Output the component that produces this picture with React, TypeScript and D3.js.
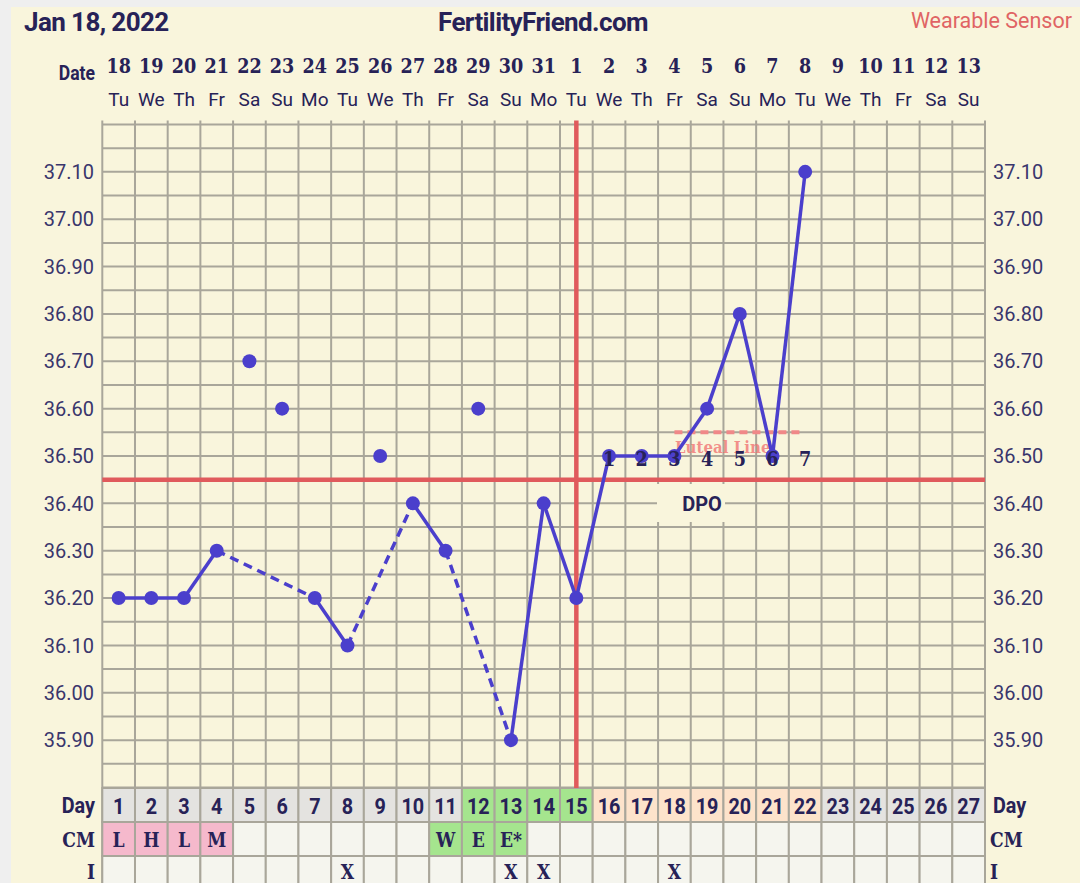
import React from "react";
import * as d3 from "d3";

const dates = [18,19,20,21,22,23,24,25,26,27,28,29,30,31,1,2,3,4,5,6,7,8,9,10,11,12,13];
const weekdays = ["Tu","We","Th","Fr","Sa","Su","Mo","Tu","We","Th","Fr","Sa","Su","Mo","Tu","We","Th","Fr","Sa","Su","Mo","Tu","We","Th","Fr","Sa","Su"];
const temps: (number | null)[] = [36.2,36.2,36.2,36.3,36.7,36.6,36.2,36.1,36.5,36.4,36.3,36.6,35.9,36.4,36.2,36.5,36.5,36.5,36.6,36.8,36.5,37.1];
const discarded = [5,6,9,12];
const yTicks = [35.9,36.0,36.1,36.2,36.3,36.4,36.5,36.6,36.7,36.8,36.9,37.0,37.1];
const dayPhase = ["g","g","g","g","g","g","g","g","g","g","g","f","f","f","f","p","p","p","p","p","p","p","g","g","g","g","g"];
const cmValues = ["L","H","L","M","","","","","","","W","E","E*","","","","","","","","","","","","","",""];
const cmColor = ["pink","pink","pink","pink","","","","","","","green","green","green","","","","","","","","","","","","","",""];
const intercourseDays = [8,13,14,18];
const coverline = 36.45;
const ovulationDay = 15;
const dpoNumbers = [1,2,3,4,5,6,7];
const dpoStartDay = 16;
const dpoLabelTemp = 36.5;
const lutealTemp = 36.55;
const lutealStart = 18;
const lutealEnd = 22;

const NAVY = "#272257";
const GRID = "#a9a69a";
const CREAM = "#f9f5dc";
const BLUE = "#4b3fcc";
const RED = "#e05a5c";

export default function App() {
  const nDays = 27;
  const x = d3.scaleLinear().domain([0, nDays]).range([102.3, 985]);
  const y = d3.scaleLinear().domain([35.8, 37.2]).range([787.5, 124.5]);
  const cx = (d: number) => x(d - 0.5);
  const rowTop = [788, 822, 856];
  const rowH = 34;

  const gridH = d3.range(35.8, 37.2001, 0.05);
  const gridV = d3.range(0, nDays + 1);

  const pts = temps.map((t, i) => ({ day: i + 1, t })).filter(p => p.t != null) as { day: number; t: number }[];
  const valid = pts.filter(p => !discarded.includes(p.day));
  const segs: { a: typeof valid[0]; b: typeof valid[0]; dashed: boolean }[] = [];
  for (let i = 1; i < valid.length; i++) {
    segs.push({ a: valid[i - 1], b: valid[i], dashed: valid[i].day - valid[i - 1].day > 1 });
  }
  const line = d3.line<{ day: number; t: number }>().x(p => cx(p.day)).y(p => y(p.t));

  const phaseFill: Record<string, string> = { g: "#e4e3e0", f: "#a5e58e", p: "#fde3cb" };
  const cmFill: Record<string, string> = { pink: "#f5b9cc", green: "#a5e58e", "": "#f5f5ee" };

  const slab = (txt: string, tx: number, ty: number, size = 20, anchor: "middle" | "end" | "start" = "middle", fill = NAVY, key?: any) => (
    <text key={key} transform={`translate(${tx},${ty}) scale(0.86,1)`} textAnchor={anchor}
      fontFamily="'DejaVu Serif', serif" fontWeight="bold" fontSize={size} fill={fill}>{txt}</text>
  );

  return (
    <svg width={1080} height={883} style={{ position: "absolute", left: 0, top: 0 }}>
      <rect x={0} y={0} width={1080} height={883} fill="#efefef" />
      <rect x={11} y={7} width={1069} height={876} fill={CREAM} />

      {/* header */}
      <text x={24} y={31} fontFamily="Roboto" fontWeight="bold" fontSize={26} fill={NAVY} letterSpacing={-0.6}>Jan 18, 2022</text>
      <text x={543} y={31} textAnchor="middle" fontFamily="Roboto" fontWeight="bold" fontSize={26} fill={NAVY} letterSpacing={-0.6}>FertilityFriend.com</text>
      <text x={1072} y={28} textAnchor="end" fontFamily="Roboto" fontSize={21.5} fill="#e06464">Wearable Sensor</text>

      {/* date header */}
      <text transform="translate(95,80) scale(0.88,1)" textAnchor="end" fontFamily="Roboto" fontWeight="bold" fontSize={20} fill={NAVY}>Date</text>
      {dates.map((d, i) => slab(String(d), cx(i + 1), 73, 20.5, "middle", NAVY, "d" + i))}
      {weekdays.map((w, i) => (
        <text key={"w" + i} x={cx(i + 1)} y={106} textAnchor="middle" fontFamily="Roboto" fontSize={19} fill={NAVY}>{w}</text>
      ))}

      {/* grid */}
      {gridH.map((t, i) => (
        <line key={"h" + i} x1={x(0)} x2={x(nDays)} y1={y(t)} y2={y(t)} stroke={GRID} strokeWidth={2} />
      ))}
      {gridV.map(d => (
        <line key={"v" + d} x1={x(d)} x2={x(d)} y1={120.5} y2={rowTop[2] + rowH + 10} stroke={GRID} strokeWidth={2} />
      ))}

      {/* y labels */}
      {yTicks.map(t => (
        <g key={"yt" + t}>
          <text x={94} y={y(t)} dy="0.36em" textAnchor="end" fontFamily="Roboto" fontSize={20} fill="#3a366c">{t.toFixed(2)}</text>
          <text x={993} y={y(t)} dy="0.36em" textAnchor="start" fontFamily="Roboto" fontSize={20} fill="#3a366c">{t.toFixed(2)}</text>
        </g>
      ))}

      {/* bottom rows */}
      {d3.range(nDays).map(i => (
        <g key={"r" + i}>
          <rect x={x(i)} y={rowTop[0]} width={x(1) - x(0)} height={rowH} fill={phaseFill[dayPhase[i]]} stroke={GRID} strokeWidth={2} />
          <rect x={x(i)} y={rowTop[1]} width={x(1) - x(0)} height={rowH} fill={cmFill[cmColor[i]]} stroke={GRID} strokeWidth={2} />
          <rect x={x(i)} y={rowTop[2]} width={x(1) - x(0)} height={rowH} fill="#f5f5ee" stroke={GRID} strokeWidth={2} />
          <text transform={`translate(${cx(i + 1)},${rowTop[0] + 26}) scale(0.9,1)`} textAnchor="middle" fontFamily="Roboto" fontWeight="bold" fontSize={22} fill={NAVY}>{i + 1}</text>
          {cmValues[i] ? slab(cmValues[i], cx(i + 1), rowTop[1] + 25, 20) : null}
          {intercourseDays.includes(i + 1) ? slab("X", cx(i + 1), rowTop[2] + 23, 20) : null}
        </g>
      ))}
      <text transform={`translate(95,${rowTop[0] + 25}) scale(0.9,1)`} textAnchor="end" fontFamily="Roboto" fontWeight="bold" fontSize={22} fill={NAVY}>Day</text>
      {slab("CM", 95, rowTop[1] + 25, 20, "end")}
      {slab("I", 95, rowTop[2] + 23, 20, "end")}
      <text transform={`translate(993,${rowTop[0] + 25}) scale(0.9,1)`} textAnchor="start" fontFamily="Roboto" fontWeight="bold" fontSize={22} fill={NAVY}>Day</text>
      {slab("CM", 990, rowTop[1] + 25, 20, "start")}
      {slab("I", 990, rowTop[2] + 23, 20, "start")}

      {/* coverline and ovulation */}
      <line x1={x(0)} x2={x(nDays)} y1={y(coverline)} y2={y(coverline)} stroke={RED} strokeWidth={4.5} />
      <line x1={cx(ovulationDay)} x2={cx(ovulationDay)} y1={120.5} y2={rowTop[0]} stroke={RED} strokeWidth={4.5} />

      {/* DPO label box */}
      <rect x={657} y={484} width={68} height={38} fill={CREAM} />
      <text x={702} y={511} textAnchor="middle" fontFamily="Roboto" fontWeight="bold" fontSize={20} fill={NAVY}>DPO</text>

      {/* luteal line */}
      <line x1={cx(lutealStart)} x2={cx(lutealEnd) - 5} y1={y(lutealTemp)} y2={y(lutealTemp)} stroke="#f08888" strokeWidth={4} strokeDasharray="8,5" />
      {slab("Luteal Line", 675, 453, 17.5, "start", "rgba(240,110,110,0.75)")}

      {/* temperature lines */}
      {segs.map((s, i) => (
        <path key={"s" + i} d={line([s.a, s.b]) || ""} fill="none" stroke={BLUE} strokeWidth={3.5} strokeDasharray={s.dashed ? "9,6" : undefined} />
      ))}
      {pts.map(p => (
        <circle key={"p" + p.day} cx={cx(p.day)} cy={y(p.t)} r={7} fill={BLUE} />
      ))}

      {/* DPO numbers */}
      {dpoNumbers.map((n, i) => slab(String(n), cx(dpoStartDay + i), y(dpoLabelTemp) + 10, 20.5, "middle", NAVY, "dpo" + n))}
    </svg>
  );
}
